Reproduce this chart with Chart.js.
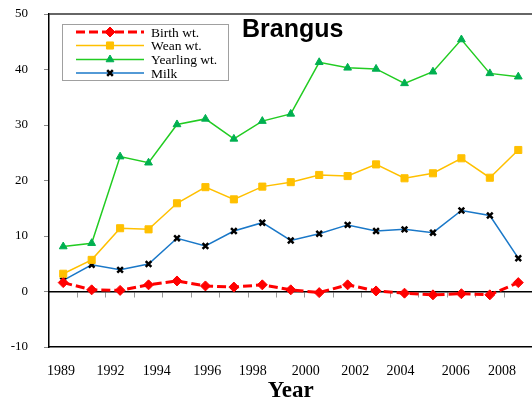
<!DOCTYPE html>
<html>
<head>
<meta charset="utf-8">
<script src="https://cdn.jsdelivr.net/npm/chart.js@4/dist/chart.umd.min.js"></script>
<style>
html,body{margin:0;padding:0;background:#fff;overflow:hidden;}
#wrap{width:539px;height:402px;}
</style>
</head>
<body>
<div id="wrap"><canvas id="c" width="539" height="402"></canvas></div>
<script>
// ---- data ----
const seriesNames = ['Birth wt.', 'Wean wt.', 'Yearling wt.', 'Milk'];
const birthWt    = [1.6, 0.3, 0.2, 1.2, 1.9, 1.0, 0.8, 1.2, 0.3, -0.2, 1.2, 0.1, -0.3, -0.6, -0.4, -0.6, 1.6];
const weanWt     = [3.2, 5.7, 11.4, 11.2, 15.9, 18.8, 16.6, 18.9, 19.7, 21.0, 20.8, 22.9, 20.4, 21.3, 24.0, 20.5, 25.5];
const yearlingWt = [8.1, 8.7, 24.3, 23.2, 30.1, 31.1, 27.5, 30.7, 32.0, 41.3, 40.3, 40.1, 37.5, 39.6, 45.4, 39.3, 38.7];
const milk       = [2.0, 4.8, 3.9, 4.95, 9.6, 8.2, 10.9, 12.4, 9.2, 10.4, 12.0, 10.9, 11.2, 10.6, 14.6, 13.7, 6.0];
const yearLabels = ['1989', '1992', '1994', '1996', '1998', '2000', '2002', '2004', '2006', '2008'];
const yTicks     = [-10, 0, 10, 20, 30, 40, 50];

// ---- layout constants (positions of the year text along the point index axis) ----
const labelAt = [-0.08, 1.66, 3.29, 5.06, 6.66, 8.53, 10.27, 11.86, 13.8, 15.43];
const SERIF = '"Liberation Serif","Times New Roman",serif';
const SANS = '"Liberation Sans",Arial,sans-serif';

const toXY = arr => arr.map((v, i) => ({x: i, y: v}));

const frame = {
  id: 'frame',
  afterDraw(chart) {
    const {ctx, chartArea: a} = chart;
    ctx.save();
    ctx.strokeStyle = '#333';
    ctx.lineWidth = 1.5;
    ctx.beginPath();
    ctx.moveTo(a.left, a.top); ctx.lineTo(a.right, a.top);
    ctx.stroke();
    // title
    ctx.fillStyle = '#000';
    ctx.font = 'bold 25px ' + SANS;
    ctx.textBaseline = 'alphabetic';
    ctx.textAlign = 'left';
    ctx.fillText('Brangus', 242, 37);
    // legend
    ctx.strokeStyle = '#a0a0a0';
    ctx.lineWidth = 1;
    ctx.strokeRect(62.5, 24.5, 166, 56);
    const rows = [32, 45.5, 59.5, 73];
    chart.data.datasets.forEach((ds, i) => {
      const y = rows[i];
      ctx.save();
      ctx.strokeStyle = ds.borderColor;
      ctx.lineWidth = ds.borderWidth;
      ctx.setLineDash(ds.borderDash || []);
      ctx.beginPath(); ctx.moveTo(76, y); ctx.lineTo(144, y); ctx.stroke();
      ctx.restore();
      ctx.save();
      ctx.fillStyle = ds.pointBackgroundColor;
      ctx.strokeStyle = ds.pointBorderColor;
      ctx.lineWidth = ds.pointBorderWidth;
      Chart.helpers.drawPoint(ctx, {pointStyle: ds.pointStyle, radius: ds.pointRadius, rotation: 0, borderWidth: ds.pointBorderWidth}, 110, y);
      ctx.restore();
      ctx.fillStyle = '#000';
      ctx.font = '13.5px ' + SERIF;
      ctx.textBaseline = 'middle';
      ctx.fillText(ds.label, 151, y + 1);
    });
    ctx.restore();
  }
};

new Chart(document.getElementById('c'), {
  type: 'line',
  data: {
    datasets: [
      {label: seriesNames[0], data: toXY(birthWt), borderColor: '#ff0000', borderWidth: 3, borderDash: [9, 4],
       pointStyle: 'rectRot', pointRadius: 5, pointBackgroundColor: '#ff0000', pointBorderColor: '#ff0000', pointBorderWidth: 1},
      {label: seriesNames[1], data: toXY(weanWt), borderColor: '#ffc000', borderWidth: 1.5,
       pointStyle: 'rect', pointRadius: 5, pointBackgroundColor: '#ffc000', pointBorderColor: '#ffc000', pointBorderWidth: 1},
      {label: seriesNames[2], data: toXY(yearlingWt), borderColor: '#22cc22', borderWidth: 1.5,
       pointStyle: 'triangle', pointRadius: 4.5, pointBackgroundColor: '#00b050', pointBorderColor: '#00b050', pointBorderWidth: 1},
      {label: seriesNames[3], data: toXY(milk), borderColor: '#1a78c8', borderWidth: 1.5,
       pointStyle: 'crossRot', pointRadius: 4, pointBackgroundColor: '#000', pointBorderColor: '#000', pointBorderWidth: 2.5}
    ]
  },
  options: {
    responsive: false,
    animation: false,
    layout: {padding: {top: 14, left: 0, right: 0, bottom: 0}},
    plugins: {legend: {display: false}, title: {display: false}, tooltip: {enabled: false}},
    elements: {line: {tension: 0}},
    scales: {
      x: {
        type: 'linear', position: 'bottom', min: -0.5, max: 16.5,
        grid: {display: false, drawTicks: false},
        border: {display: true, color: '#000', width: 1.5},
        afterBuildTicks: s => { s.ticks = labelAt.map(v => ({value: v})); },
        afterFit: s => { s.height = 55; s.paddingLeft = 0; s.paddingRight = 0; },
        ticks: {autoSkip: false, maxRotation: 0, padding: 16, color: '#000',
                font: {family: SERIF, size: 14},
                callback: (v, i) => yearLabels[i]},
        title: {display: true, text: 'Year', color: '#000', padding: {top: 0, bottom: -3},
                font: {family: SERIF, size: 23, weight: 'bold'}}
      },
      x2: {
        type: 'linear', position: {y: 0}, min: -0.5, max: 16.5,
        grid: {drawOnChartArea: false, drawTicks: true, tickLength: 5, color: '#999'},
        border: {display: true, color: '#000', width: 1.5},
        afterBuildTicks: s => { s.ticks = birthWt.slice(1).map((_, i) => ({value: i + 0.5})); },
        ticks: {display: false}
      },
      y: {
        type: 'linear', position: 'left', min: -10, max: 50,
        afterBuildTicks: s => { s.ticks = yTicks.map(v => ({value: v})); },
        afterFit: s => { s.width = 49; s.paddingTop = 0; s.paddingBottom = 0; },
        grid: {drawOnChartArea: false, drawTicks: true, tickLength: 5, color: '#888'},
        border: {display: true, color: '#000', width: 1.5},
        ticks: {padding: 16, color: '#000', font: {family: SERIF, size: 13}}
      }
    }
  },
  plugins: [frame]
});
</script>
</body>
</html>
